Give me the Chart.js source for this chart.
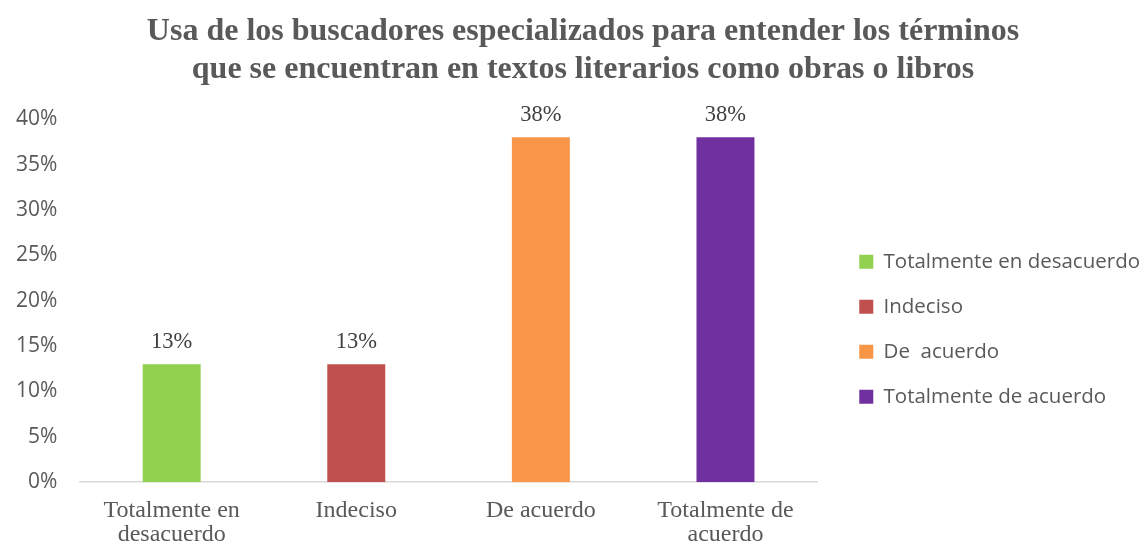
<!DOCTYPE html>
<html>
<head>
<meta charset="utf-8">
<script src="https://cdn.jsdelivr.net/npm/chart.js@4.4.1/dist/chart.umd.min.js"></script>
<style>
  html, body { margin: 0; padding: 0; background: #fff; }
  #wrap { width: 1140px; height: 546px; position: relative; }
</style>
</head>
<body>
<div id="wrap"><canvas id="surveyChart"></canvas></div>
<script>
// data
const titleLines = [
    'Usa de los buscadores especializados para entender los términos',
    'que se encuentran en textos literarios como obras o libros'
];
const categories = [['Totalmente en', 'desacuerdo'], 'Indeciso', 'De acuerdo', ['Totalmente de', 'acuerdo']];
const legendNames = ['Totalmente en desacuerdo', 'Indeciso', 'De  acuerdo', 'Totalmente de acuerdo'];
const shares = [0.13, 0.13, 0.38, 0.38];
const barColors = ['#92D050', '#C0504D', '#F79646', '#7030A0'];
const yMax = 0.4;
const yStep = 0.05;

const serif = '"Liberation Serif", "Times New Roman", serif';
const sans = '"Open Sans", "Noto Sans", sans-serif';

function asPercent(v) {
    return Math.round(v * 100) + '%';
}

// Chart.js reserves tick padding twice, keep it only once
function dropExtraPadding(scale) {
    const pad = scale.options.ticks.padding;
    if (scale.isHorizontal()) {
        scale.height -= pad;
    } else {
        scale.width -= pad;
    }
}

// value labels above each bar
const barValueLabels = {
    id: 'barValueLabels',
    afterDatasetsDraw(chart) {
        const ctx = chart.ctx;
        const meta = chart.getDatasetMeta(0);
        ctx.save();
        ctx.font = '22.5px ' + serif;
        ctx.fillStyle = '#404040';
        ctx.textAlign = 'center';
        ctx.textBaseline = 'alphabetic';
        meta.data.forEach((bar, i) => {
            ctx.fillText(asPercent(shares[i]), bar.x, bar.y - 16.5);
        });
        ctx.restore();
    }
};

let ctx = document.getElementById('surveyChart').getContext('2d');
new Chart(ctx, {
    type: 'bar',
    data: {
        labels: categories,
        datasets: [{
            data: shares,
            backgroundColor: barColors,
            borderWidth: 0,
            categoryPercentage: 1,
            barPercentage: 0.314
        }]
    },
    options: {
        responsive: true,
        maintainAspectRatio: false,
        animation: false,
        layout: {
            padding: { left: 16, right: -10, top: 0, bottom: 0 }
        },
        plugins: {
            title: {
                display: true,
                text: titleLines,
                color: '#595959',
                font: { family: serif, size: 32, weight: 'bold', lineHeight: 1.175 },
                padding: { top: 13, bottom: 31 }
            },
            legend: {
                display: true,
                position: 'right',
                fullSize: false,
                align: 'center',
                maxWidth: 330,
                // blank title just pushes the entries down a little
                title: {
                    display: true,
                    text: ' ',
                    font: { size: 10, lineHeight: 1.2 },
                    padding: { top: 22.5, bottom: 22.5 }
                },
                labels: {
                    boxWidth: 14,
                    boxHeight: 14,
                    padding: 24.5,
                    color: '#595959',
                    font: { family: sans, size: 20.5 },
                    generateLabels: function () {
                        return legendNames.map((name, i) => ({
                            text: name,
                            fillStyle: barColors[i],
                            strokeStyle: barColors[i],
                            fontColor: '#595959',
                            lineWidth: 0,
                            hidden: false,
                            index: i
                        }));
                    }
                }
            },
            tooltip: { enabled: false }
        },
        scales: {
            x: {
                grid: { display: false, drawTicks: false },
                border: { display: true, color: '#D9D9D9', width: 1.5 },
                ticks: {
                    color: '#595959',
                    font: { family: serif, size: 24, lineHeight: 0.975 },
                    padding: 17,
                    maxRotation: 0
                },
                afterFit: dropExtraPadding
            },
            y: {
                min: 0,
                max: yMax,
                grid: { display: false, drawTicks: false },
                border: { display: false },
                ticks: {
                    stepSize: yStep,
                    color: '#595959',
                    font: { family: sans, size: 21 },
                    padding: 22,
                    callback: v => asPercent(v)
                },
                afterFit: dropExtraPadding
            },
            // empty right axis only keeps a gap between the bars and the legend
            gap: {
                position: 'right',
                display: true,
                grid: { display: false, drawTicks: false },
                border: { display: false },
                ticks: { display: false },
                afterFit: scale => { scale.width = 17; }
            }
        }
    },
    plugins: [barValueLabels]
});
</script>
</body>
</html>
